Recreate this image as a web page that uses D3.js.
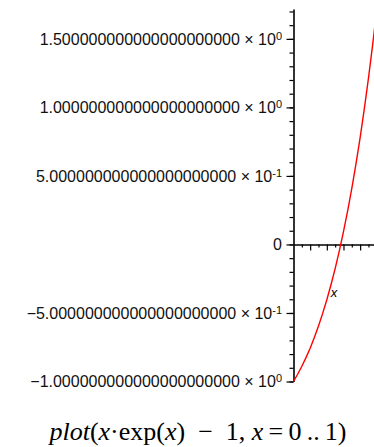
<!DOCTYPE html>
<html>
<head>
<meta charset="utf-8">
<script src="https://cdn.jsdelivr.net/npm/d3@7"></script>
<style>
  body { margin: 0; background: #fff; }
  svg { display: block; }
</style>
</head>
<body>
<div id="chart"></div>
<script>
// Values (x from 0 to 1)
const xs = [0, 0.05, 0.1, 0.15, 0.2, 0.25, 0.3, 0.35, 0.4, 0.45, 0.5,
            0.55, 0.6, 0.65, 0.7, 0.75, 0.8, 0.85, 0.9, 0.95, 1];
const ys = [-1, -0.947, -0.889, -0.826, -0.757, -0.679, -0.595, -0.503, -0.403, -0.294, -0.176,
            -0.047, 0.093, 0.245, 0.410, 0.588, 0.780, 0.989, 1.214, 1.456, 1.718];

// Tick labels
const yTicks = [-1, -0.5, 0, 0.5, 1, 1.5];
const yMantissa = ["\u22121.000000000000000000000", "\u22125.000000000000000000000", "0",
                   "5.000000000000000000000", "1.000000000000000000000", "1.500000000000000000000"];
const yExponent = ["0", "-1", null, "-1", "0", "0"];
const yMinor = d3.range(-10, 18).map(d => d / 10);
const xMajor = [0.2, 0.4, 0.6, 0.8];
const xMinor = [0.1, 0.3, 0.5, 0.7, 0.9];

const width = 374, height = 447;

let svg = d3.select("#chart")
    .append("svg")
    .attr("width", width)
    .attr("height", height);

// x: 0 sits on the vertical axis, 1 falls just past the right edge
let x = d3.scaleLinear().domain([0, 1]).range([293.5, 376.8]);
let y = d3.scaleLinear().domain([-1, 1.718]).range([381.5, 9]);

// y axis, minor ticks
svg.append("g")
    .attr("transform", `translate(${x(0)},0)`)
    .call(d3.axisLeft(y).tickValues(yMinor).tickSize(4).tickFormat(""))
    .call(g => g.select(".domain").remove())
    .selectAll("line").attr("stroke", "#000").attr("stroke-width", 1.2);

// y axis, major ticks + line
let yAxis = svg.append("g")
    .attr("transform", `translate(${x(0)},0)`)
    .call(d3.axisLeft(y).tickValues(yTicks).tickSize(7).tickSizeOuter(0).tickFormat(""));
yAxis.select(".domain").attr("stroke", "#000").attr("stroke-width", 1.6);
yAxis.selectAll("line").attr("stroke", "#000").attr("stroke-width", 1.2);

// x axis
let xAxis = svg.append("g")
    .attr("transform", `translate(0,${y(0)})`)
    .call(d3.axisBottom(x).tickValues(xMinor).tickSize(3).tickSizeOuter(0).tickFormat(""));
xAxis.select(".domain").attr("stroke", "#000").attr("stroke-width", 1.6);
xAxis.selectAll("line").attr("stroke", "#000").attr("stroke-width", 1.2);
svg.append("g")
    .attr("transform", `translate(0,${y(0)})`)
    .call(d3.axisBottom(x).tickValues(xMajor).tickSize(6).tickFormat(""))
    .call(g => g.select(".domain").remove())
    .selectAll("line").attr("stroke", "#000").attr("stroke-width", 1.2);

// y labels with superscript exponents
let labels = svg.append("g")
    .style("font-family", "'Liberation Sans', Arial, sans-serif")
    .style("font-size", "16px")
    .attr("fill", "#111");

yTicks.forEach(function (v, i) {
    let t = labels.append("text")
        .attr("x", 282)
        .attr("y", y(v))
        .attr("dy", "0.36em")
        .attr("text-anchor", "end");
    if (yExponent[i] === null) {
        t.text(yMantissa[i]);
    } else {
        t.append("tspan").text(yMantissa[i] + " \u00d7 10");
        t.append("tspan")
            .attr("dy", "-0.45em")
            .style("font-size", "11px")
            .text(yExponent[i]);
    }
});

// the curve
let line = d3.line()
    .x(function (d, i) { return x(xs[i]); })
    .y(function (d) { return y(d); });

svg.append("path")
    .datum(ys)
    .attr("d", line)
    .attr("fill", "none")
    .attr("stroke", "#ff0000")
    .attr("stroke-width", 1.4);

// axis label
svg.append("text")
    .attr("x", 334)
    .attr("y", 297)
    .attr("text-anchor", "middle")
    .style("font-family", "'Liberation Sans', Arial, sans-serif")
    .style("font-size", "13px")
    .style("font-style", "italic")
    .text("x");

// command line under the plot
let cmd = svg.append("text")
    .attr("x", 198)
    .attr("y", 440)
    .attr("text-anchor", "middle")
    .style("font-family", "'Liberation Serif', 'Times New Roman', serif")
    .style("font-size", "26px");
cmd.append("tspan").style("font-style", "italic").text("plot");
cmd.append("tspan").text("(");
cmd.append("tspan").style("font-style", "italic").text("x");
cmd.append("tspan").text("\u00b7exp(");
cmd.append("tspan").style("font-style", "italic").text("x");
cmd.append("tspan").text(")\u2002\u2212\u20021, ");
cmd.append("tspan").style("font-style", "italic").text("x");
cmd.append("tspan").text("\u2009=\u20090\u2009..\u20091)");
</script>
</body>
</html>
